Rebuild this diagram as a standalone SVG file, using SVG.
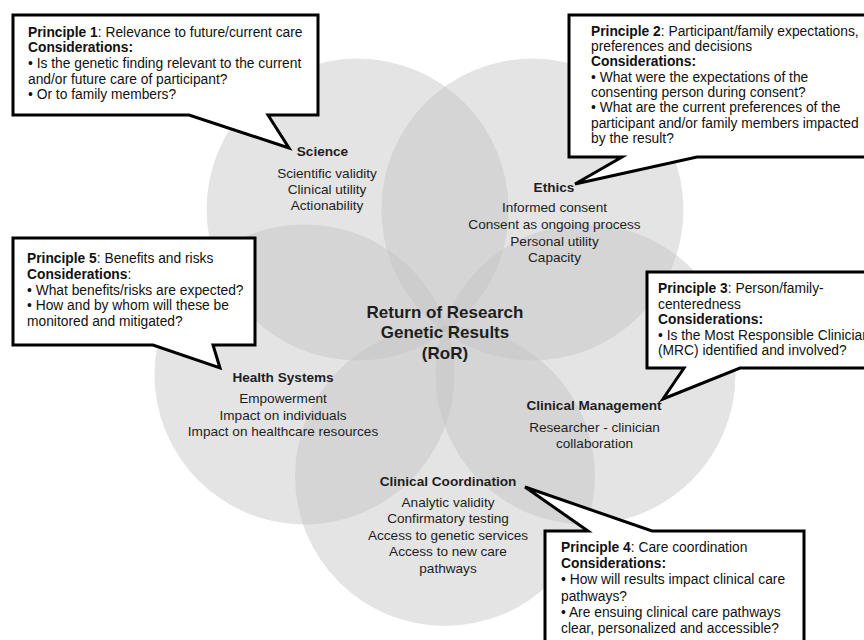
<svg xmlns="http://www.w3.org/2000/svg" width="864" height="640" viewBox="0 0 864 640">
<style>
.c{fill:#c3c3c3;fill-opacity:0.45;stroke:none}
.t{font-family:"Liberation Sans",Arial,sans-serif;font-size:13.6px;fill:#1e1e1e;text-anchor:middle}
.h{font-weight:bold}
.big{font-family:"Liberation Sans",Arial,sans-serif;font-size:17px;font-weight:bold;fill:#1e1e1e;text-anchor:middle}
.box{fill:#fff;stroke:#000;stroke-width:3;stroke-linejoin:miter}
.b{font-family:"Liberation Sans",Arial,sans-serif;font-size:13.8px;fill:#111}
.b tspan.k{font-weight:bold}
</style>
<rect width="864" height="640" fill="#fff"/>
<g id="circles">
<circle id="science-circle" class="c" cx="357.6" cy="209.5" r="151"/>
<circle id="ethics-circle" class="c" cx="532.4" cy="209.5" r="151"/>
<circle id="clinical-management-circle" class="c" cx="585.5" cy="374.4" r="150"/>
<circle id="clinical-coordination-circle" class="c" cx="445" cy="476" r="150"/>
<circle id="health-systems-circle" class="c" cx="304.5" cy="374.4" r="150"/>
</g>
<g id="science">
<text class="t h" x="322.5" y="156">Science</text>
<text class="t" x="327" y="178">Scientific validity</text>
<text class="t" x="327" y="194">Clinical utility</text>
<text class="t" x="327" y="210">Actionability</text>
</g>
<g id="ethics">
<text class="t h" x="554" y="192">Ethics</text>
<text class="t" x="554.5" y="212">Informed consent</text>
<text class="t" x="554.5" y="229">Consent as ongoing process</text>
<text class="t" x="554.5" y="245.5">Personal utility</text>
<text class="t" x="554.5" y="262">Capacity</text>
</g>
<g id="clinical-management">
<text class="t h" x="594" y="410">Clinical Management</text>
<text class="t" x="594.5" y="431.5">Researcher - clinician</text>
<text class="t" x="594.5" y="448">collaboration</text>
</g>
<g id="clinical-coordination">
<text class="t h" x="448" y="486">Clinical Coordination</text>
<text class="t" x="448" y="506.5">Analytic validity</text>
<text class="t" x="448" y="523">Confirmatory testing</text>
<text class="t" x="448" y="539.5">Access to genetic services</text>
<text class="t" x="448" y="556">Access to new care</text>
<text class="t" x="448" y="572.5">pathways</text>
</g>
<g id="health-systems">
<text class="t h" x="283" y="381.5">Health Systems</text>
<text class="t" x="283" y="403">Empowerment</text>
<text class="t" x="283" y="419.5">Impact on individuals</text>
<text class="t" x="283" y="436">Impact on healthcare resources</text>
</g>
<g id="ror">
<text class="big" x="445" y="317.5">Return of Research</text>
<text class="big" x="445" y="338">Genetic Results</text>
<text class="big" x="445" y="358.5">(RoR)</text>
</g>
<g id="connectors"></g>
<g id="principle-1">
<path class="box" d="M13,15 H318 V115 H268 L289,148 L189,115 H13 Z"/>
<text class="b" x="28" y="36.7"><tspan class="k">Principle 1</tspan>: Relevance to future/current care</text>
<text class="b" x="28" y="52.3"><tspan class="k">Considerations:</tspan></text>
<text class="b" x="28" y="68">• Is the genetic finding relevant to the current</text>
<text class="b" x="28" y="83.6">and/or future care of participant?</text>
<text class="b" x="28" y="99.3">• Or to family members?</text>
</g>
<g id="principle-2">
<path class="box" d="M569,15 H872 V157 H697 L575,184 L622,157 H569 Z"/>
<text class="b" x="591" y="35.5"><tspan class="k">Principle 2</tspan>: Participant/family expectations,</text>
<text class="b" x="591" y="50.9">preferences and decisions</text>
<text class="b" x="591" y="66.2"><tspan class="k">Considerations:</tspan></text>
<text class="b" x="591" y="81.6">• What were the expectations of the</text>
<text class="b" x="591" y="97">consenting person during consent?</text>
<text class="b" x="591" y="112.4">• What are the current preferences of the</text>
<text class="b" x="591" y="127.7">participant and/or family members impacted</text>
<text class="b" x="591" y="143.1">by the result?</text>
</g>
<g id="principle-3">
<path class="box" d="M647,272 H872 V368 H740 L663,399 L684,368 H647 Z"/>
<text class="b" x="658" y="293"><tspan class="k">Principle 3</tspan>: Person/family-</text>
<text class="b" x="658" y="308.5">centeredness</text>
<text class="b" x="658" y="324"><tspan class="k">Considerations:</tspan></text>
<text class="b" x="658" y="339.5">• Is the Most Responsible Clinician</text>
<text class="b" x="658" y="355">(MRC) identified and involved?</text>
</g>
<g id="principle-4">
<path class="box" d="M545,531 H588 L525,487 L652,531 H804 V652 H545 Z"/>
<text class="b" x="561" y="552"><tspan class="k">Principle 4</tspan>: Care coordination</text>
<text class="b" x="561" y="568.2"><tspan class="k">Considerations:</tspan></text>
<text class="b" x="561" y="584.4">• How will results impact clinical care</text>
<text class="b" x="561" y="600.6">pathways?</text>
<text class="b" x="561" y="616.8">• Are ensuing clinical care pathways</text>
<text class="b" x="561" y="633">clear, personalized and accessible?</text>
</g>
<g id="principle-5">
<path class="box" d="M13,238 H255 V345 H213 L220,368 L153,345 H13 Z"/>
<text class="b" x="27" y="263"><tspan class="k">Principle 5</tspan>: Benefits and risks</text>
<text class="b" x="27" y="278.8"><tspan class="k">Considerations</tspan>:</text>
<text class="b" x="27" y="294.5">• What benefits/risks are expected?</text>
<text class="b" x="27" y="310.3">• How and by whom will these be</text>
<text class="b" x="27" y="326">monitored and mitigated?</text>
</g>
</svg>
